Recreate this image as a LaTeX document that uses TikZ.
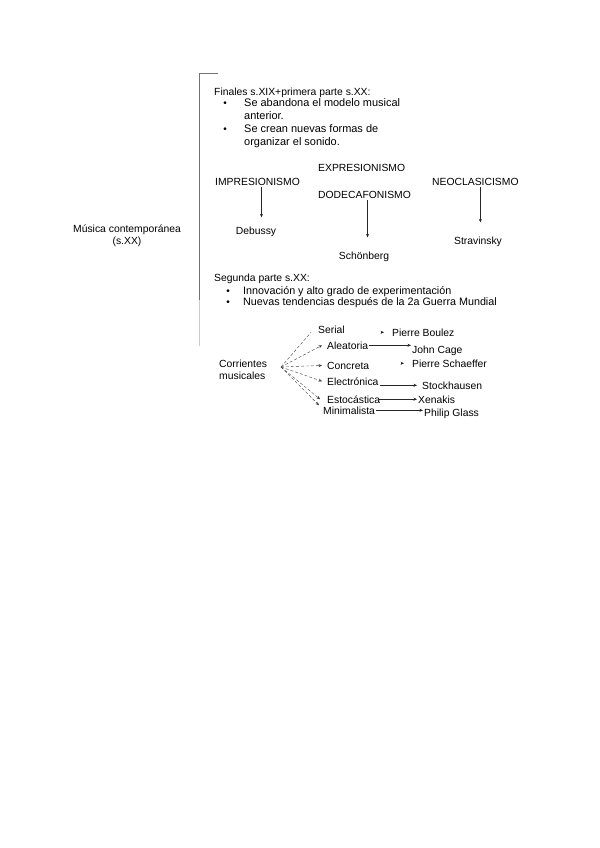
\documentclass[tikz,border=0pt]{standalone}
\usepackage{fontspec}
\setmainfont{Liberation Sans}
\usepackage{tikz}
\usetikzlibrary{arrows.meta,positioning}

\begin{document}
\begin{tikzpicture}[
    x=0.03528cm, y=-0.03528cm,
    txt/.style={anchor=base west, inner sep=1pt, font=\fontsize{10.4}{12.5}\selectfont},
    big/.style={txt, font=\fontsize{11}{13}\selectfont},
    mid/.style={txt, font=\fontsize{10.8}{12}\selectfont},
    ctr/.style={anchor=base, inner sep=1pt, font=\fontsize{10.4}{12.5}\selectfont},
    dot/.style={anchor=base, inner sep=0pt, font=\fontsize{10}{12}\selectfont},
    arrow/.style={-{Stealth[length=3.5pt, width=3pt]}, line width=0.5pt, draw=black!85},
    fan/.style={-{Stealth[length=3.5pt, width=3pt]}, line width=0.4pt, draw=black!75, densely dashed}
]
    \useasboundingbox (0,0) rectangle (600,848);

    % Bracket and title
    \draw[black!55, line width=0.6pt] (218,73) -- (199,73) -- (199,300);
    \draw[black!20, line width=0.6pt] (199,300) -- (199,346);
    \node[anchor=center, align=center, inner sep=1pt, font=\fontsize{10.4}{12}\selectfont] (musica) at (127,236) {M\'usica contempor\'anea\\(s.XX)};

    % First part
    \node[txt] (finales) at (213,96) {Finales s.XIX+primera parte s.XX:};
    \node[dot] (b1) at (225,107) {\textbullet};
    \node[big] (abandona) at (243,107) {Se abandona el modelo musical};
    \node[big] (anterior) at (243,120) {anterior.};
    \node[dot] (b2) at (225,133) {\textbullet};
    \node[big] (crean) at (243,133) {Se crean nuevas formas de};
    \node[big] (organizar) at (243,146) {organizar el sonido.};

    % Movements
    \node[txt] (expr) at (317,172) {EXPRESIONISMO};
    \node[txt] (impr) at (214,186) {IMPRESIONISMO};
    \node[txt] (neo) at (431,186) {NEOCLASICISMO};
    \node[txt] (dode) at (317,199) {DODECAFONISMO};
    \node[ctr] (debussy) at (256,234) {Debussy};
    \node[ctr] (schonberg) at (364,259) {Sch\"onberg};
    \node[ctr] (stravinsky) at (478,244) {Stravinsky};

    \draw[arrow, shorten >=8pt] ([xshift=4pt]impr.south) -- ([xshift=4pt]impr.south |- debussy.north);
    \draw[arrow, shorten >=13pt] ([xshift=3pt]dode.south) -- ([xshift=3pt]dode.south |- schonberg.north);
    \draw[arrow, shorten >=13pt] ([xshift=5pt]neo.south) -- ([xshift=5pt]neo.south |- stravinsky.north);

    % Second part
    \node[txt] (segunda) at (213,281) {Segunda parte s.XX:};
    \node[dot] (b3) at (228,294) {\textbullet};
    \node[mid] (innovacion) at (242,294) {Innovaci\'on y alto grado de experimentaci\'on};
    \node[dot] (b4) at (228,305) {\textbullet};
    \node[mid] (tendencias) at (242,305) {Nuevas tendencias despu\'es de la 2a Guerra Mundial};

    % Currents
    \node[anchor=west, align=left, inner sep=1pt, font=\fontsize{10.4}{12.5}\selectfont] (corrientes) at (218,370) {Corrientes\\musicales};
    \coordinate (fan) at (281,367);

    \node[txt] (serial) at (317,333) {Serial};
    \node[txt] (aleatoria) at (326,349) {Aleatoria};
    \node[txt] (concreta) at (326,369) {Concreta};
    \node[txt] (electronica) at (326,385) {Electr\'onica};
    \node[txt] (estocastica) at (326,403) {Estoc\'astica};
    \node[txt] (minimalista) at (322,414) {Minimalista};

    \node[txt] (boulez) at (391,336) {Pierre Boulez};
    \node[txt] (cage) at (411,353) {John Cage};
    \node[txt] (schaeffer) at (411,367) {Pierre Schaeffer};
    \node[txt] (stockhausen) at (421,389) {Stockhausen};
    \node[txt] (xenakis) at (417,403) {Xenakis};
    \node[txt] (glass) at (423,416) {Philip Glass};

    \draw[fan, -] (fan) -- ([shift={(-6pt,2pt)}]serial.south west);
    \draw[fan] (fan) -- ([xshift=-4pt]aleatoria.west);
    \draw[fan] (fan) -- ([xshift=-4pt]concreta.west);
    \draw[fan] (fan) -- ([xshift=-4pt]electronica.west);
    \draw[fan] (fan) -- ([xshift=-6pt]estocastica.west);
    \draw[fan] (fan) -- ([xshift=-3pt]minimalista.north west);

    \draw[arrow] ([xshift=-10pt]boulez.west) -- ([xshift=-7pt]boulez.west);
    \draw[arrow] (aleatoria.east) -- (aleatoria.east -| cage.west);
    \draw[arrow] ([xshift=-10pt]schaeffer.west) -- ([xshift=-7pt]schaeffer.west);
    \draw[arrow] (electronica.east |- stockhausen.west) -- ([xshift=-4pt]stockhausen.west);
    \draw[arrow] ([xshift=-2pt]estocastica.east) -- (estocastica.east -| xenakis.west);
    \draw[arrow] (minimalista.east) -- (minimalista.east -| glass.west);

\end{tikzpicture}
\end{document}
